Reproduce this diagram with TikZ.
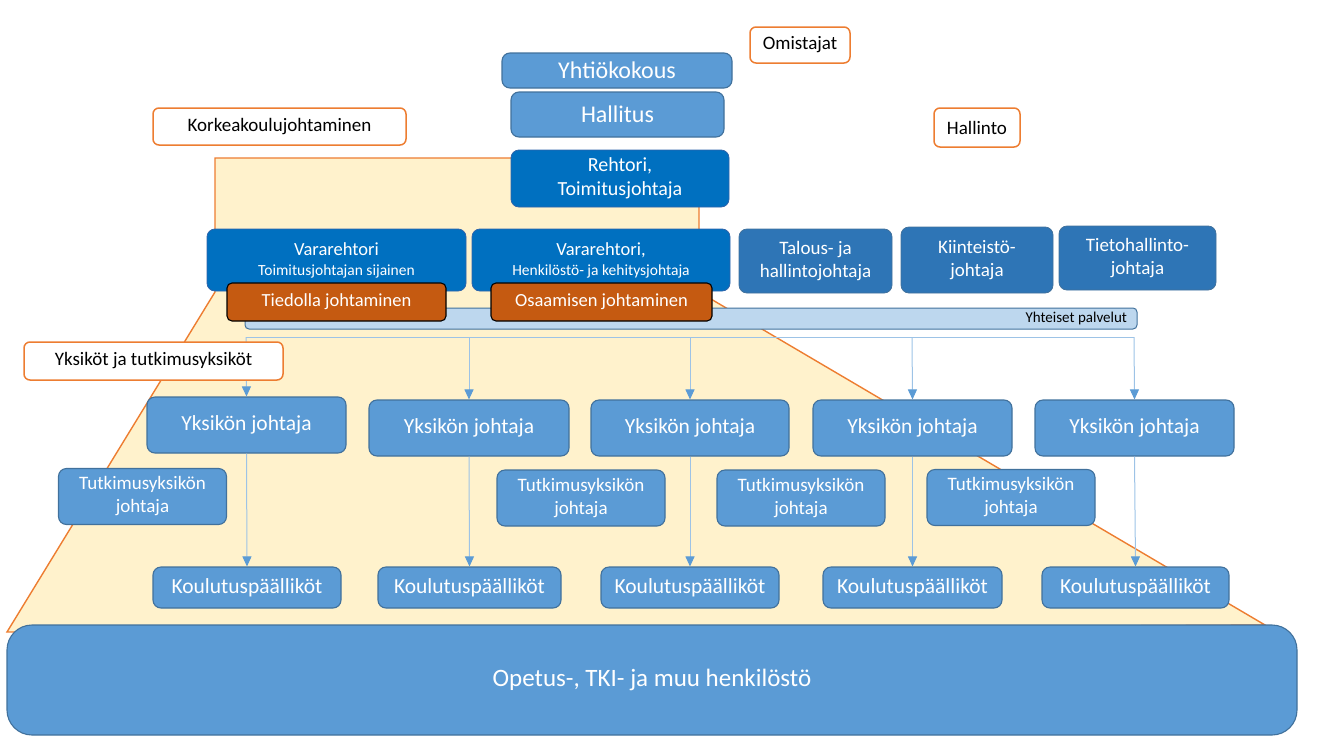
\documentclass[tikz,border=0pt]{standalone}
\usepackage{fontspec}
\setmainfont{Carlito}
\definecolor{midblue}{RGB}{91, 155, 213}
\definecolor{edgeblue}{RGB}{65, 113, 156}
\definecolor{leadblue}{RGB}{0, 112, 192}
\definecolor{leadedge}{RGB}{46, 100, 170}
\definecolor{adminblue}{RGB}{46, 117, 182}
\definecolor{rustorange}{RGB}{197, 90, 17}
\definecolor{paleblue}{RGB}{189, 215, 238}
\definecolor{busblue}{RGB}{157, 195, 230}
\definecolor{sandfill}{RGB}{255, 242, 204}
\definecolor{lineorange}{RGB}{237, 125, 49}
\usetikzlibrary{arrows.meta}

\begin{document}
\begin{tikzpicture}[x=1pt, y=-1pt,
    every node/.style={align=center, inner sep=0pt, font=\fontsize{19}{23}\selectfont},
    orgbox/.style={rounded corners=8pt, fill=midblue, draw=edgeblue, line width=1.1pt, text=white},
    leadbox/.style={rounded corners=8pt, fill=leadblue, draw=leadedge, line width=0.8pt, text=white},
    adminbox/.style={rounded corners=8pt, fill=adminblue, draw=edgeblue, line width=0.8pt, text=white},
    themebox/.style={rounded corners=5pt, fill=rustorange, draw=black, line width=1.1pt, text=white},
    tagbox/.style={rounded corners=6pt, fill=white, draw=lineorange, line width=1.5pt, text=black},
    busline/.style={busblue, line width=1pt},
    unitarrow/.style={busblue, line width=1pt, -{Triangle[width=9pt, length=10pt, color=midblue]}}]
\useasboundingbox (0,0) rectangle (1333,750);

% background shape
\draw[fill=sandfill, draw=lineorange, line width=1.4pt]
    (215,158) -- (699,158) -- (699,292) -- (1265,625) -- (7,632) -- (215,292) -- cycle;

% owners, board and management labels
\node[tagbox, minimum width=100pt, minimum height=36pt] (omistajat) at (800,45) {Omistajat};
\node[tagbox, minimum width=253pt, minimum height=37pt] (korkeakoulu) at (279.5,126.5) {Korkeakoulujohtaminen};
\node[tagbox, minimum width=86pt, minimum height=39pt] (hallinto) at (977,127.5) {Hallinto};

\node[orgbox, minimum width=230pt, minimum height=35pt, font=\fontsize{24}{28}\selectfont] (yhtiokokous) at (617,70.5) {Yhtiökokous};
\node[orgbox, minimum width=213pt, minimum height=45pt, font=\fontsize{24}{28}\selectfont] (hallitus) at (617.5,114.5) {Hallitus};
\node[leadbox, minimum width=218pt, minimum height=57pt, font=\fontsize{20}{24}\selectfont] (rehtori) at (620,178.5) {Rehtori,\\Toimitusjohtaja};

% vice rectors and administration
\node[leadbox, minimum width=259pt, minimum height=62pt, font=\fontsize{18.5}{22}\selectfont] (vararehtori1) at (336.5,260)
    {Vararehtori\\[-2pt]{\fontsize{15.5}{18}\selectfont Toimitusjohtajan sijainen}};
\node[leadbox, minimum width=258pt, minimum height=62pt, font=\fontsize{18.5}{22}\selectfont] (vararehtori2) at (601,260)
    {Vararehtori,\\[-2pt]{\fontsize{15.5}{18}\selectfont Henkilöstö- ja kehitysjohtaja}};
\node[adminbox, minimum width=153pt, minimum height=64pt] (talous) at (815.5,261) {Talous- ja\\hallintojohtaja};
\node[adminbox, minimum width=152pt, minimum height=66pt] (kiinteisto) at (977,260) {Kiinteistö-\\johtaja};
\node[adminbox, minimum width=157pt, minimum height=64pt] (tietohallinto) at (1137.5,258) {Tietohallinto-\\johtaja};

% shared services bar and themes
\node[rounded corners=4pt, fill=paleblue, draw=edgeblue, line width=1pt, minimum width=892pt, minimum height=21pt,
    text width=872pt, align=flush right, font=\fontsize{15}{18}\selectfont] (yhteiset) at (691,318.5) {Yhteiset palvelut};
\node[themebox, minimum width=219pt, minimum height=38pt, font=\fontsize{18.5}{22}\selectfont] (tiedolla) at (336.5,302) {Tiedolla johtaminen};
\node[themebox, minimum width=221pt, minimum height=38pt, font=\fontsize{18.5}{22}\selectfont] (osaaminen) at (601.5,302) {Osaamisen johtaminen};

% units
\foreach \n/\x/\y/\w in {1/246.5/425/199, 2/469/428/200, 3/690/428/198, 4/912.5/428/199, 5/1134.5/428/199}
    \node[orgbox, minimum width=\w pt, minimum height=56pt, font=\fontsize{21.5}{25}\selectfont] (yksikko\n) at (\x,\y) {Yksikön johtaja};
\foreach \n/\x/\y in {1/142.5/496.5, 2/581/498, 3/801/498, 4/1011/497.5}
    \node[orgbox, minimum width=168pt, minimum height=56pt, font=\fontsize{19}{23}\selectfont] (tutkimus\n) at (\x,\y) {Tutkimusyksikön\\johtaja};
\foreach \n/\x/\w in {1/247/188, 2/469.5/183, 3/690/178, 4/912.5/179, 5/1135.5/187}
    \node[orgbox, minimum width=\w pt, minimum height=41pt, font=\fontsize{21.5}{25}\selectfont] (koulutus\n) at (\x,587.5) {Koulutuspäälliköt};

% staff
\node[orgbox, rounded corners=25pt, minimum width=1290pt, minimum height=110pt, font=\fontsize{25}{30}\selectfont] (henkilosto) at (652,680)
    {Opetus-, TKI- ja muu henkilöstö};

% connectors
\foreach \n/\x in {1/246, 2/469, 3/690, 4/912, 5/1134}
    \coordinate (bus\n) at (\x,337);
\draw[busline] (bus1) -- (bus5);
\foreach \n in {1,...,5} {
    \draw[unitarrow] (bus\n) -- (yksikko\n.north);
    \draw[unitarrow] (yksikko\n.south) -- (koulutus\n.north);
}

% units label over the bus line
\node[tagbox, minimum width=259pt, minimum height=38pt] (yksikot) at (153.5,361) {Yksiköt ja tutkimusyksiköt};
\end{tikzpicture}
\end{document}
